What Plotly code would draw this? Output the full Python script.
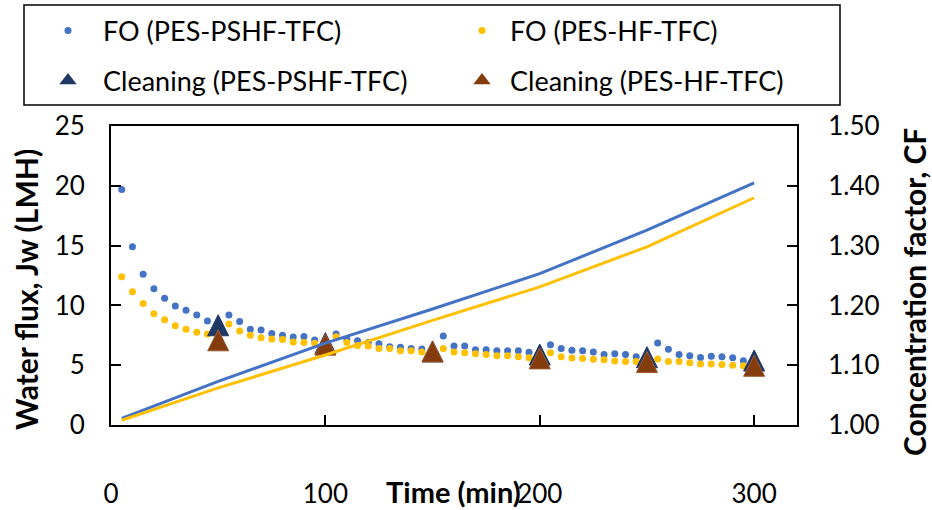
import plotly.graph_objects as go

# ---------------- data ----------------
time_fo = [5, 10, 15, 20, 25, 30, 35, 40, 45, 50, 55, 60, 65, 70, 75, 80, 85, 90, 95, 100,
           105, 110, 115, 120, 125, 130, 135, 140, 145, 150, 155, 160, 165, 170, 175, 180, 185, 190, 195, 200,
           205, 210, 215, 220, 225, 230, 235, 240, 245, 250, 255, 260, 265, 270, 275, 280, 285, 290, 295, 300]

jw_pshf = [19.7, 14.9, 12.6, 11.4, 10.6, 9.95, 9.6, 9.2, 8.7, 8.4, 9.2, 8.65, 8.0, 7.95, 7.65, 7.5, 7.35, 7.4, 7.1, 7.0,
           7.6, 7.2, 7.05, 6.9, 6.8, 6.55, 6.5, 6.4, 6.35, 6.3, 7.45, 6.6, 6.6, 6.3, 6.3, 6.2, 6.2, 6.2, 6.08, 5.95,
           6.7, 6.4, 6.25, 6.2, 6.1, 5.9, 5.95, 5.9, 5.7, 5.6, 6.85, 6.33, 5.9, 5.8, 5.65, 5.75, 5.7, 5.63, 5.38, 5.3]

jw_hf = [12.4, 11.15, 10.15, 9.3, 8.8, 8.3, 8.0, 7.75, 7.6, 7.3, 8.45, 7.86, 7.5, 7.3, 7.2, 7.15, 6.95, 6.9, 6.83, 6.75,
         7.38, 6.9, 6.65, 6.6, 6.4, 6.4, 6.2, 6.2, 6.1, 6.05, 6.4, 6.1, 6.05, 5.95, 5.9, 5.8, 5.8, 5.71, 5.63, 5.55,
         6.05, 5.71, 5.6, 5.55, 5.5, 5.45, 5.35, 5.3, 5.3, 5.2, 5.52, 5.3, 5.3, 5.2, 5.1, 5.1, 5.05, 5.0, 4.96, 4.85]

time_clean = [50, 100, 150, 200, 250, 300]
jw_clean_pshf = [8.34, 6.84, 6.15, 5.89, 5.67, 5.39]
jw_clean_hf = [7.08, 6.72, 6.15, 5.57, 5.27, 4.95]

time_cf = [5, 50, 100, 150, 200, 250, 300]
cf_pshf = [1.011, 1.073, 1.137, 1.194, 1.253, 1.326, 1.405]
cf_hf = [1.008, 1.062, 1.117, 1.175, 1.231, 1.298, 1.380]

x_ticks = [0, 100, 200, 300]
jw_ticks = [0, 5, 10, 15, 20, 25]
cf_ticks = [1.0, 1.1, 1.2, 1.3, 1.4, 1.5]

# ---------------- style ----------------
BLUE = "#4472C4"
YELLOW = "#FFC000"
NAVY = "#1F3864"
BROWN = "#843C0C"
FONT = "Lato"
TRI = 21  # triangle marker size (px)

W, H = 932, 510
ML, MR, MT, MB = 111, 135, 126, 85
PW = W - ML - MR
PH = H - MT - MB
# arrow-up markers have their apex at the data point; shift them so the
# triangle is centred on the value (half the marker height)
shift = (TRI / 2) * 25.0 / PH


def px_x(px):
    return (px - ML) / PW


def px_y(py):
    return (H - MB - py) / PH


fig = go.Figure()

fig.add_trace(go.Scatter(x=time_fo, y=jw_pshf, mode="markers", name="FO (PES-PSHF-TFC)",
                         marker=dict(color=BLUE, size=7), legend="legend"))
fig.add_trace(go.Scatter(x=time_fo, y=jw_hf, mode="markers", name="FO (PES-HF-TFC)",
                         marker=dict(color=YELLOW, size=7), legend="legend2"))

fig.add_trace(go.Scatter(x=time_clean, y=jw_clean_pshf, mode="markers", yaxis="y2", showlegend=False,
                         name="Cleaning (PES-PSHF-TFC)",
                         marker=dict(symbol="arrow-up", size=TRI, color=NAVY, line=dict(color=NAVY, width=1))))
fig.add_trace(go.Scatter(x=time_clean, y=jw_clean_hf, mode="markers", yaxis="y2", showlegend=False,
                         name="Cleaning (PES-HF-TFC)",
                         marker=dict(symbol="arrow-up", size=TRI, color=BROWN, line=dict(color="#9C5A33", width=1))))

# legend entries for the cleaning series
fig.add_trace(go.Scatter(x=[None], y=[None], mode="markers", name="Cleaning (PES-PSHF-TFC)",
                         marker=dict(symbol="triangle-up", size=15, color=NAVY), legend="legend3"))
fig.add_trace(go.Scatter(x=[None], y=[None], mode="markers", name="Cleaning (PES-HF-TFC)",
                         marker=dict(symbol="triangle-up", size=15, color=BROWN), legend="legend4"))

fig.add_trace(go.Scatter(x=time_cf, y=cf_pshf, mode="lines", yaxis="y3", showlegend=False,
                         name="CF (PES-PSHF-TFC)", line=dict(color=BLUE, width=3)))
fig.add_trace(go.Scatter(x=time_cf, y=cf_hf, mode="lines", yaxis="y3", showlegend=False,
                         name="CF (PES-HF-TFC)", line=dict(color=YELLOW, width=3)))

axis_common = dict(showline=True, linewidth=2, linecolor="black", ticks="inside", ticklen=10,
                   tickwidth=2, tickcolor="black", showgrid=False, zeroline=False,
                   tickfont=dict(family=FONT, size=26, color="black"))


def legend_box(xpx, ypx, itemwidth):
    return dict(orientation="v", x=px_x(xpx), xanchor="left", y=px_y(ypx), yanchor="middle",
                bgcolor="rgba(0,0,0,0)", borderwidth=0, itemwidth=itemwidth,
                font=dict(family=FONT, size=27, color="black"))


fig.update_layout(
    width=W, height=H,
    margin=dict(l=ML, r=MR, t=MT, b=MB, autoexpand=False),
    paper_bgcolor="white", plot_bgcolor="white",
    font=dict(family=FONT, color="black"),
    xaxis=dict(range=[0, 320], tickvals=x_ticks, mirror=True, ticklabelstandoff=45, **axis_common),
    yaxis=dict(range=[0, 25], tickvals=jw_ticks, ticklabelstandoff=19, **axis_common),
    yaxis2=dict(range=[-shift, 25 - shift], overlaying="y", visible=False),
    yaxis3=dict(range=[1.0, 1.5], tickvals=cf_ticks, tickformat=".2f", overlaying="y", side="right",
                ticklabelstandoff=24, **axis_common),
    legend=legend_box(33, 31, 60),
    legend2=legend_box(454, 31, 46),
    legend3=legend_box(33, 81, 60),
    legend4=legend_box(454, 81, 46),
    showlegend=True,
)

# legend frame
fig.add_shape(type="rect", xref="paper", yref="paper",
              x0=px_x(24), x1=px_x(840), y0=px_y(105), y1=px_y(5),
              line=dict(color="black", width=1.5), fillcolor="rgba(0,0,0,0)")

# axis titles
fig.add_annotation(text="<b>Time (min)</b>", xref="paper", yref="paper", x=px_x(453), y=px_y(491),
                   showarrow=False, xanchor="center", yanchor="middle",
                   font=dict(family=FONT, size=29, color="black"))
fig.add_annotation(text="<b>Water flux, Jw (LMH)</b>", xref="paper", yref="paper", x=px_x(26), y=px_y(290),
                   showarrow=False, xanchor="center", yanchor="middle", textangle=-90,
                   font=dict(family=FONT, size=30, color="black"))
fig.add_annotation(text="<b>Concentration factor, CF</b>", xref="paper", yref="paper", x=px_x(914),
                   y=px_y(292), showarrow=False, xanchor="center", yanchor="middle", textangle=-90,
                   font=dict(family=FONT, size=30, color="black"))

fig.write_html("out.html")
